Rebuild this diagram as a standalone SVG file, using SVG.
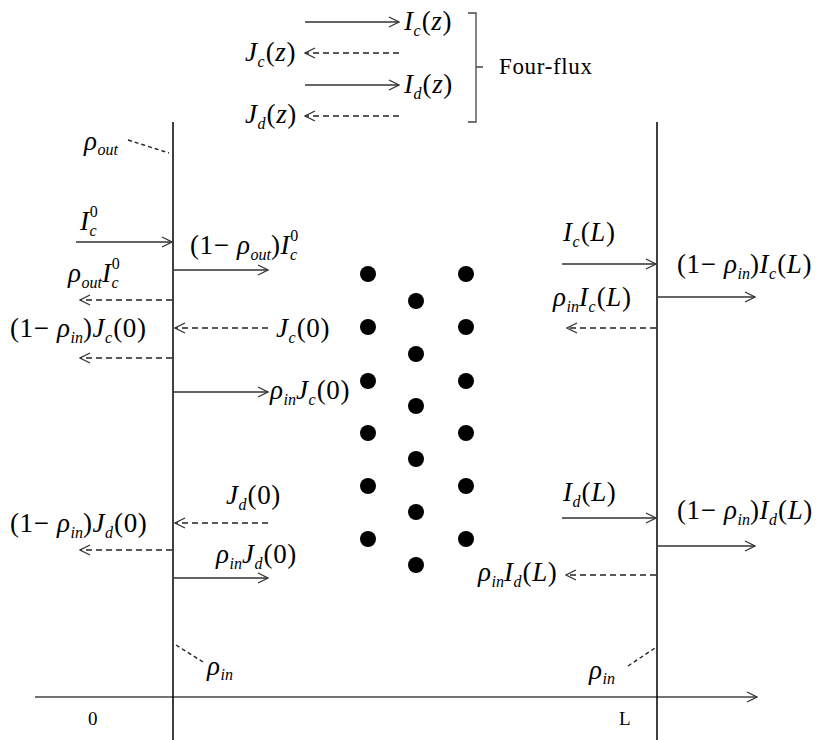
<svg xmlns="http://www.w3.org/2000/svg" width="819" height="740" viewBox="0 0 819 740">
<defs>
<style>
text{font-family:"Liberation Serif","Times New Roman",serif;fill:#000;}
.m{font-size:27px;letter-spacing:0.6px;}
.i{font-style:italic;}
.s{font-size:16px;font-style:italic;letter-spacing:0;}
.n{font-size:16px;letter-spacing:0;}
.wall{stroke:#000;stroke-width:1.5;fill:none;}
.a{stroke:#333;stroke-width:1.3;fill:none;marker-end:url(#ah);}
.d{stroke:#222;stroke-width:1.4;fill:none;stroke-dasharray:6 4;marker-end:url(#ah);}
.lead{stroke:#222;stroke-width:1.4;fill:none;stroke-dasharray:4 3;}
.dot{fill:#000;}
</style>
<marker id="ah" viewBox="0 0 12 12" refX="11" refY="6" markerWidth="12" markerHeight="12" markerUnits="userSpaceOnUse" orient="auto">
<path d="M1,1 L11,6 L1,11" fill="none" stroke="#333" stroke-width="1.3" stroke-dasharray="none"/>
</marker>
</defs>
<rect width="819" height="740" fill="#fff"/>

<g id="axis">
<line class="wall" x1="35" y1="697" x2="757" y2="697" style="stroke:#444;marker-end:url(#ah)"/>
<text x="88" y="725" style="font-size:19px">0</text>
<text x="619" y="725" style="font-size:19px">L</text>
</g>

<g id="wall-0">
<line class="wall" x1="173" y1="122" x2="173" y2="740"/>
<line class="lead" x1="128" y1="140" x2="169" y2="153"/>
<text x="84" y="150" class="m"><tspan class="i">ρ</tspan><tspan class="s" dy="5">out</tspan></text>
<line class="lead" x1="176" y1="645" x2="203" y2="662"/>
<text x="207" y="675" class="m"><tspan class="i">ρ</tspan><tspan class="s" dy="5">in</tspan></text>
</g>

<g id="wall-L">
<line class="wall" x1="657" y1="122" x2="657" y2="740"/>
<line class="lead" x1="628" y1="666" x2="655" y2="648"/>
<text x="589" y="679" class="m"><tspan class="i">ρ</tspan><tspan class="s" dy="5">in</tspan></text>
</g>

<g id="particles">
<circle class="dot" cx="368" cy="274" r="8"/><circle class="dot" cx="368" cy="327" r="8"/><circle class="dot" cx="368" cy="381" r="8"/><circle class="dot" cx="368" cy="433" r="8"/><circle class="dot" cx="368" cy="486" r="8"/><circle class="dot" cx="368" cy="539" r="8"/>
<circle class="dot" cx="416" cy="301" r="8"/><circle class="dot" cx="416" cy="354" r="8"/><circle class="dot" cx="416" cy="406" r="8"/><circle class="dot" cx="416" cy="459" r="8"/><circle class="dot" cx="416" cy="512" r="8"/><circle class="dot" cx="416" cy="565" r="8"/>
<circle class="dot" cx="466" cy="274" r="8"/><circle class="dot" cx="466" cy="327" r="8"/><circle class="dot" cx="466" cy="381" r="8"/><circle class="dot" cx="466" cy="433" r="8"/><circle class="dot" cx="466" cy="486" r="8"/><circle class="dot" cx="466" cy="539" r="8"/>
</g>

<g id="legend">
<text x="404" y="30" class="m"><tspan class="i">I</tspan><tspan class="s" dy="6">c</tspan><tspan dx="1" dy="-6">(</tspan><tspan class="i">z</tspan>)</text>
<text x="245" y="61" class="m"><tspan class="i">J</tspan><tspan class="s" dy="6">c</tspan><tspan dx="1" dy="-6">(</tspan><tspan class="i">z</tspan>)</text>
<text x="404" y="93" class="m"><tspan class="i">I</tspan><tspan class="s" dy="6">d</tspan><tspan dx="1" dy="-6">(</tspan><tspan class="i">z</tspan>)</text>
<text x="245" y="123" class="m"><tspan class="i">J</tspan><tspan class="s" dy="6">d</tspan><tspan dx="1" dy="-6">(</tspan><tspan class="i">z</tspan>)</text>
<path class="wall" style="stroke:#444;stroke-width:1.3" d="M468,13 L476,13 L476,122 L468,122 M476,67 L483,67"/>
<text x="499" y="74" style="font-size:23px" textLength="93">Four-flux</text>
</g>

<g id="labels-left">
<text x="80" y="230" class="m"><tspan class="i">I</tspan><tspan class="s" dy="6">c</tspan><tspan class="n" dx="-7" dy="-19">0</tspan></text>
<text x="190" y="254" class="m">(1− <tspan class="i">ρ</tspan><tspan class="s" dy="6">out</tspan><tspan dy="-6">)</tspan><tspan class="i">I</tspan><tspan class="s" dy="6">c</tspan><tspan class="n" dx="-7" dy="-19">0</tspan></text>
<text x="68" y="282" class="m"><tspan class="i">ρ</tspan><tspan class="s" dy="6">out</tspan><tspan class="i" dy="-6">I</tspan><tspan class="s" dy="6">c</tspan><tspan class="n" dx="-7" dy="-19">0</tspan></text>
<text x="10" y="337" class="m">(1− <tspan class="i">ρ</tspan><tspan class="s" dy="6">in</tspan><tspan dy="-6">)</tspan><tspan class="i">J</tspan><tspan class="s" dy="6">c</tspan><tspan dx="1" dy="-6">(0)</tspan></text>
<text x="276" y="337" class="m"><tspan class="i">J</tspan><tspan class="s" dy="6">c</tspan><tspan dx="1" dy="-6">(0)</tspan></text>
<text x="270" y="399" class="m"><tspan class="i">ρ</tspan><tspan class="s" dy="6">in</tspan><tspan class="i" dy="-6">J</tspan><tspan class="s" dy="6">c</tspan><tspan dx="1" dy="-6">(0)</tspan></text>
<text x="226" y="504" class="m"><tspan class="i">J</tspan><tspan class="s" dy="6">d</tspan><tspan dx="1" dy="-6">(0)</tspan></text>
<text x="10" y="532" class="m">(1− <tspan class="i">ρ</tspan><tspan class="s" dy="6">in</tspan><tspan dy="-6">)</tspan><tspan class="i">J</tspan><tspan class="s" dy="6">d</tspan><tspan dx="1" dy="-6">(0)</tspan></text>
<text x="216" y="563" class="m"><tspan class="i">ρ</tspan><tspan class="s" dy="6">in</tspan><tspan class="i" dy="-6">J</tspan><tspan class="s" dy="6">d</tspan><tspan dx="1" dy="-6">(0)</tspan></text>
</g>

<g id="labels-right">
<text x="563" y="241" class="m"><tspan class="i">I</tspan><tspan class="s" dy="6">c</tspan><tspan dx="1" dy="-6">(</tspan><tspan class="i">L</tspan>)</text>
<text x="677" y="273" class="m">(1− <tspan class="i">ρ</tspan><tspan class="s" dy="6">in</tspan><tspan dy="-6">)</tspan><tspan class="i">I</tspan><tspan class="s" dy="6">c</tspan><tspan dx="1" dy="-6">(</tspan><tspan class="i">L</tspan>)</text>
<text x="553" y="306" class="m"><tspan class="i">ρ</tspan><tspan class="s" dy="6">in</tspan><tspan class="i" dy="-6">I</tspan><tspan class="s" dy="6">c</tspan><tspan dx="1" dy="-6">(</tspan><tspan class="i">L</tspan>)</text>
<text x="563" y="501" class="m"><tspan class="i">I</tspan><tspan class="s" dy="6">d</tspan><tspan dx="1" dy="-6">(</tspan><tspan class="i">L</tspan>)</text>
<text x="677" y="519" class="m">(1− <tspan class="i">ρ</tspan><tspan class="s" dy="6">in</tspan><tspan dy="-6">)</tspan><tspan class="i">I</tspan><tspan class="s" dy="6">d</tspan><tspan dx="1" dy="-6">(</tspan><tspan class="i">L</tspan>)</text>
<text x="478" y="581" class="m"><tspan class="i">ρ</tspan><tspan class="s" dy="6">in</tspan><tspan class="i" dy="-6">I</tspan><tspan class="s" dy="6">d</tspan><tspan dx="1" dy="-6">(</tspan><tspan class="i">L</tspan>)</text>
</g>

<g id="connectors">
<line class="a" x1="305" y1="22" x2="399" y2="22"/>
<line class="d" x1="399" y1="53" x2="305" y2="53"/>
<line class="a" x1="305" y1="85" x2="399" y2="85"/>
<line class="d" x1="399" y1="116" x2="305" y2="116"/>
<line class="a" x1="76" y1="242" x2="172" y2="242"/>
<line class="a" x1="174" y1="270" x2="268" y2="270"/>
<line class="d" x1="172" y1="300" x2="80" y2="300"/>
<line class="d" x1="268" y1="328" x2="175" y2="328"/>
<line class="d" x1="172" y1="358" x2="80" y2="358"/>
<line class="a" x1="174" y1="392" x2="268" y2="392"/>
<line class="d" x1="268" y1="523" x2="175" y2="523"/>
<line class="d" x1="172" y1="550" x2="80" y2="550"/>
<line class="a" x1="174" y1="578" x2="268" y2="578"/>
<line class="a" x1="562" y1="264" x2="656" y2="264"/>
<line class="a" x1="658" y1="297" x2="755" y2="297"/>
<line class="d" x1="656" y1="328" x2="567" y2="328"/>
<line class="a" x1="562" y1="518" x2="656" y2="518"/>
<line class="a" x1="658" y1="546" x2="755" y2="546"/>
<line class="d" x1="656" y1="575" x2="566" y2="575"/>
</g>
</svg>
